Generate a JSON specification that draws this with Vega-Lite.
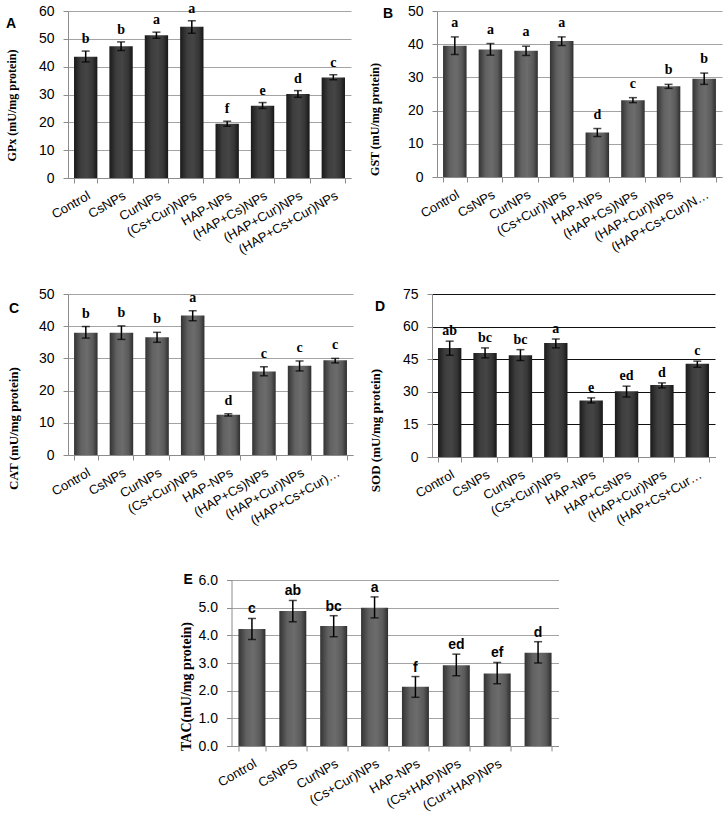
{
  "$schema": "https://vega.github.io/schema/vega-lite/v6.json",
  "padding": {"left": 5, "top": 1, "right": 5, "bottom": 5},
  "background": "white",
  "config": {
    "view": {"stroke": null},
    "axis": {
      "domainColor": "#8c8c8c",
      "tickColor": "#8c8c8c",
      "labelFont": "Liberation Sans",
      "labelColor": "black",
      "titleFont": "Liberation Serif",
      "titleFontWeight": "bold",
      "titleColor": "black"
    },
    "axisX": {"grid": false, "tickBand": "extent", "tickSize": 5, "labelAngle": -30, "labelFontSize": 13, "labelPadding": 6, "title": null},
    "axisY": {"grid": true, "gridColor": "#a3a3a3", "tickSize": 5, "labelPadding": 9, "labelFontSize": 14, "titleFontSize": 12, "titleBaseline": "middle"},
    "title": {"anchor": "start", "frame": "group", "offset": 0, "baseline": "alphabetic", "fontSize": 14, "font": "Liberation Sans", "fontWeight": "bold", "color": "black"}
  },
  "datasets": {
    "gpx": [
      {"g": "Control", "v": 43.6, "lo": 41.7, "hi": 45.6, "sig": "b"},
      {"g": "CsNPs", "v": 47.3, "lo": 45.8, "hi": 48.9, "sig": "b"},
      {"g": "CurNPs", "v": 51.3, "lo": 50.2, "hi": 52.4, "sig": "a"},
      {"g": "(Cs+Cur)NPs", "v": 54.3, "lo": 52.0, "hi": 56.5, "sig": "a"},
      {"g": "HAP-NPs", "v": 19.5, "lo": 18.6, "hi": 20.4, "sig": "f"},
      {"g": "(HAP+Cs)NPs", "v": 26.0, "lo": 25.0, "hi": 27.1, "sig": "e"},
      {"g": "(HAP+Cur)NPs", "v": 30.2, "lo": 29.0, "hi": 31.4, "sig": "d"},
      {"g": "(HAP+Cs+Cur)NPs", "v": 36.1, "lo": 35.3, "hi": 37.1, "sig": "c"}
    ],
    "gst": [
      {"g": "Control", "v": 39.5, "lo": 36.9, "hi": 42.2, "sig": "a"},
      {"g": "CsNPs", "v": 38.4, "lo": 36.7, "hi": 40.2, "sig": "a"},
      {"g": "CurNPs", "v": 38.0, "lo": 36.6, "hi": 39.4, "sig": "a"},
      {"g": "(Cs+Cur)NPs", "v": 41.0, "lo": 39.6, "hi": 42.2, "sig": "a"},
      {"g": "HAP-NPs", "v": 13.4, "lo": 12.2, "hi": 14.6, "sig": "d"},
      {"g": "(HAP+Cs)NPs", "v": 23.1, "lo": 22.4, "hi": 23.9, "sig": "c"},
      {"g": "(HAP+Cur)NPs", "v": 27.3, "lo": 26.7, "hi": 27.9, "sig": "b"},
      {"g": "(HAP+Cs+Cur)N…", "v": 29.6, "lo": 27.9, "hi": 31.3, "sig": "b"}
    ],
    "cat": [
      {"g": "Control", "v": 38.0, "lo": 36.3, "hi": 39.9, "sig": "b"},
      {"g": "CsNPs", "v": 38.0, "lo": 35.9, "hi": 40.1, "sig": "b"},
      {"g": "CurNPs", "v": 36.6, "lo": 35.0, "hi": 38.1, "sig": "b"},
      {"g": "(Cs+Cur)NPs", "v": 43.3, "lo": 41.7, "hi": 44.8, "sig": "a"},
      {"g": "HAP-NPs", "v": 12.5, "lo": 12.1, "hi": 12.8, "sig": "d"},
      {"g": "(HAP+Cs)NPs", "v": 25.9, "lo": 24.6, "hi": 27.4, "sig": "c"},
      {"g": "(HAP+Cur)NPs", "v": 27.7, "lo": 26.1, "hi": 29.2, "sig": "c"},
      {"g": "(HAP+Cs+Cur)…", "v": 29.4, "lo": 28.6, "hi": 30.0, "sig": "c"}
    ],
    "sod": [
      {"g": "Control", "v": 50.2, "lo": 46.8, "hi": 53.3, "sig": "ab"},
      {"g": "CsNPs", "v": 47.9, "lo": 45.6, "hi": 50.2, "sig": "bc"},
      {"g": "CurNPs", "v": 46.8, "lo": 44.4, "hi": 49.4, "sig": "bc"},
      {"g": "(Cs+Cur)NPs", "v": 52.5, "lo": 50.2, "hi": 54.3, "sig": "a"},
      {"g": "HAP-NPs", "v": 26.0, "lo": 24.9, "hi": 27.2, "sig": "e"},
      {"g": "HAP+CsNPs", "v": 30.3, "lo": 27.6, "hi": 32.6, "sig": "ed"},
      {"g": "(HAP+Cur)NPs", "v": 33.1, "lo": 31.8, "hi": 34.1, "sig": "d"},
      {"g": "(HAP+Cs+Cur…", "v": 42.9, "lo": 41.3, "hi": 44.1, "sig": "c"}
    ],
    "tac": [
      {"g": "Control", "v": 4.23, "lo": 3.85, "hi": 4.61, "sig": "c"},
      {"g": "CsNPS", "v": 4.88, "lo": 4.49, "hi": 5.26, "sig": "ab"},
      {"g": "CurNPs", "v": 4.34, "lo": 3.95, "hi": 4.71, "sig": "bc"},
      {"g": "(Cs+Cur)NPs", "v": 5.0, "lo": 4.63, "hi": 5.39, "sig": "a"},
      {"g": "HAP-NPs", "v": 2.14, "lo": 1.76, "hi": 2.51, "sig": "f"},
      {"g": "(Cs+HAP)NPs", "v": 2.92, "lo": 2.54, "hi": 3.32, "sig": "ed"},
      {"g": "(Cur+HAP)NPs", "v": 2.62, "lo": 2.25, "hi": 3.02, "sig": "ef"},
      {"g": " ", "v": 3.37, "lo": 3.0, "hi": 3.77, "sig": "d"}
    ]
  },
  "vconcat": [
    {
      "vconcat": [
        {
          "hconcat": [
            {
              "width": 283, "height": 167,
              "data": {"name": "gpx"},
              "title": {"text": "A", "dx": -62, "dy": 33},
              "encoding": {"x": {"field": "g", "type": "nominal", "sort": null, "scale": {"paddingInner": 0.34, "paddingOuter": 0.17}}},
              "layer": [
                {"mark": {"type": "bar", "color": {"gradient": "linear", "x1": 0, "x2": 1, "y1": 0, "y2": 0, "stops": [{"offset": 0, "color": "#1a1a1a"}, {"offset": 0.3, "color": "#3e3e3e"}, {"offset": 0.55, "color": "#454545"}, {"offset": 0.8, "color": "#363636"}, {"offset": 1, "color": "#161616"}]}},
                 "encoding": {"y": {"field": "v", "type": "quantitative", "scale": {"domain": [0, 60], "nice": false}, "axis": {"values": [0, 10, 20, 30, 40, 50, 60], "title": "GPx (mU/mg protein)", "titleX": -57, "titleY": 94}}}},
                {"mark": {"type": "rule", "color": "black", "strokeWidth": 1.5}, "encoding": {"y": {"field": "lo", "type": "quantitative", "axis": {"values": [0, 10, 20, 30, 40, 50, 60], "title": "GPx (mU/mg protein)", "titleX": -57, "titleY": 94}}, "y2": {"field": "hi"}}},
                {"mark": {"type": "tick", "color": "black", "thickness": 1.5, "size": 8}, "encoding": {"y": {"field": "lo", "type": "quantitative", "axis": {"values": [0, 10, 20, 30, 40, 50, 60], "title": "GPx (mU/mg protein)", "titleX": -57, "titleY": 94}}}},
                {"mark": {"type": "tick", "color": "black", "thickness": 1.5, "size": 8}, "encoding": {"y": {"field": "hi", "type": "quantitative", "axis": {"values": [0, 10, 20, 30, 40, 50, 60], "title": "GPx (mU/mg protein)", "titleX": -57, "titleY": 94}}}},
                {"mark": {"type": "text", "font": "Liberation Serif", "fontWeight": "bold", "fontSize": 14, "baseline": "alphabetic", "dy": -8, "color": "black"}, "encoding": {"y": {"field": "hi", "type": "quantitative", "axis": {"values": [0, 10, 20, 30, 40, 50, 60], "title": "GPx (mU/mg protein)", "titleX": -57, "titleY": 94}}, "text": {"field": "sig"}}}
              ]
            },
            {
              "width": 285, "height": 166,
              "data": {"name": "gst"},
              "title": {"text": "B", "dx": -54, "dy": 21},
              "encoding": {"x": {"field": "g", "type": "nominal", "sort": null, "scale": {"paddingInner": 0.34, "paddingOuter": 0.17}}},
              "layer": [
                {"mark": {"type": "bar", "color": {"gradient": "linear", "x1": 0, "x2": 1, "y1": 0, "y2": 0, "stops": [{"offset": 0, "color": "#333333"}, {"offset": 0.3, "color": "#626262"}, {"offset": 0.55, "color": "#6c6c6c"}, {"offset": 0.8, "color": "#5a5a5a"}, {"offset": 1, "color": "#2e2e2e"}]}},
                 "encoding": {"y": {"field": "v", "type": "quantitative", "scale": {"domain": [0, 50], "nice": false}, "axis": {"values": [0, 10, 20, 30, 40, 50], "title": "GST (mU/mg protein)", "titleX": -63, "titleY": 108}}}},
                {"mark": {"type": "rule", "color": "black", "strokeWidth": 1.5}, "encoding": {"y": {"field": "lo", "type": "quantitative", "axis": {"values": [0, 10, 20, 30, 40, 50], "title": "GST (mU/mg protein)", "titleX": -63, "titleY": 108}}, "y2": {"field": "hi"}}},
                {"mark": {"type": "tick", "color": "black", "thickness": 1.5, "size": 8}, "encoding": {"y": {"field": "lo", "type": "quantitative", "axis": {"values": [0, 10, 20, 30, 40, 50], "title": "GST (mU/mg protein)", "titleX": -63, "titleY": 108}}}},
                {"mark": {"type": "tick", "color": "black", "thickness": 1.5, "size": 8}, "encoding": {"y": {"field": "hi", "type": "quantitative", "axis": {"values": [0, 10, 20, 30, 40, 50], "title": "GST (mU/mg protein)", "titleX": -63, "titleY": 108}}}},
                {"mark": {"type": "text", "font": "Liberation Serif", "fontWeight": "bold", "fontSize": 14, "baseline": "alphabetic", "dy": -10, "color": "black"}, "encoding": {"y": {"field": "hi", "type": "quantitative", "axis": {"values": [0, 10, 20, 30, 40, 50], "title": "GST (mU/mg protein)", "titleX": -63, "titleY": 108}}, "text": {"field": "sig"}}}
              ]
            }
          ],
          "spacing": 16
        },
        {
          "hconcat": [
            {
              "width": 285, "height": 161,
              "data": {"name": "cat"},
              "title": {"text": "C", "dx": -59, "dy": 33},
              "encoding": {"x": {"field": "g", "type": "nominal", "sort": null, "scale": {"paddingInner": 0.34, "paddingOuter": 0.17}}},
              "layer": [
                {"mark": {"type": "bar", "color": {"gradient": "linear", "x1": 0, "x2": 1, "y1": 0, "y2": 0, "stops": [{"offset": 0, "color": "#333333"}, {"offset": 0.3, "color": "#626262"}, {"offset": 0.55, "color": "#6c6c6c"}, {"offset": 0.8, "color": "#5a5a5a"}, {"offset": 1, "color": "#2e2e2e"}]}},
                 "encoding": {"y": {"field": "v", "type": "quantitative", "scale": {"domain": [0, 50], "nice": false}, "axis": {"values": [0, 10, 20, 30, 40, 50], "title": "CAT  (mU/mg protein)", "titleFontSize": 13, "titleX": -55, "titleY": 134}}}},
                {"mark": {"type": "rule", "color": "black", "strokeWidth": 1.5}, "encoding": {"y": {"field": "lo", "type": "quantitative", "axis": {"values": [0, 10, 20, 30, 40, 50], "title": "CAT  (mU/mg protein)", "titleFontSize": 13, "titleX": -55, "titleY": 134}}, "y2": {"field": "hi"}}},
                {"mark": {"type": "tick", "color": "black", "thickness": 1.5, "size": 8}, "encoding": {"y": {"field": "lo", "type": "quantitative", "axis": {"values": [0, 10, 20, 30, 40, 50], "title": "CAT  (mU/mg protein)", "titleFontSize": 13, "titleX": -55, "titleY": 134}}}},
                {"mark": {"type": "tick", "color": "black", "thickness": 1.5, "size": 8}, "encoding": {"y": {"field": "hi", "type": "quantitative", "axis": {"values": [0, 10, 20, 30, 40, 50], "title": "CAT  (mU/mg protein)", "titleFontSize": 13, "titleX": -55, "titleY": 134}}}},
                {"mark": {"type": "text", "font": "Liberation Serif", "fontWeight": "bold", "fontSize": 14, "baseline": "alphabetic", "dy": -9, "color": "black"}, "encoding": {"y": {"field": "hi", "type": "quantitative", "axis": {"values": [0, 10, 20, 30, 40, 50], "title": "CAT  (mU/mg protein)", "titleFontSize": 13, "titleX": -55, "titleY": 134}}, "text": {"field": "sig"}}}
              ]
            },
            {
              "width": 283, "height": 163,
              "data": {"name": "sod"},
              "title": {"text": "D", "dx": -57, "dy": 31},
              "encoding": {"x": {"field": "g", "type": "nominal", "sort": null, "scale": {"paddingInner": 0.34, "paddingOuter": 0.17}}},
              "layer": [
                {"mark": {"type": "bar", "color": {"gradient": "linear", "x1": 0, "x2": 1, "y1": 0, "y2": 0, "stops": [{"offset": 0, "color": "#1a1a1a"}, {"offset": 0.3, "color": "#3e3e3e"}, {"offset": 0.55, "color": "#454545"}, {"offset": 0.8, "color": "#363636"}, {"offset": 1, "color": "#161616"}]}},
                 "encoding": {"y": {"field": "v", "type": "quantitative", "scale": {"domain": [0, 75], "nice": false}, "axis": {"values": [0, 15, 30, 45, 60, 75], "gridColor": "#111111", "title": "SOD (mU/mg protein)", "titleFontSize": 13, "titleX": -57, "titleY": 136}}}},
                {"mark": {"type": "rule", "color": "black", "strokeWidth": 1.5}, "encoding": {"y": {"field": "lo", "type": "quantitative", "axis": {"values": [0, 15, 30, 45, 60, 75], "gridColor": "#111111", "title": "SOD (mU/mg protein)", "titleFontSize": 13, "titleX": -57, "titleY": 136}}, "y2": {"field": "hi"}}},
                {"mark": {"type": "tick", "color": "black", "thickness": 1.5, "size": 8}, "encoding": {"y": {"field": "lo", "type": "quantitative", "axis": {"values": [0, 15, 30, 45, 60, 75], "gridColor": "#111111", "title": "SOD (mU/mg protein)", "titleFontSize": 13, "titleX": -57, "titleY": 136}}}},
                {"mark": {"type": "tick", "color": "black", "thickness": 1.5, "size": 8}, "encoding": {"y": {"field": "hi", "type": "quantitative", "axis": {"values": [0, 15, 30, 45, 60, 75], "gridColor": "#111111", "title": "SOD (mU/mg protein)", "titleFontSize": 13, "titleX": -57, "titleY": 136}}}},
                {"mark": {"type": "text", "font": "Liberation Serif", "fontWeight": "bold", "fontSize": 14, "baseline": "alphabetic", "dy": -6, "color": "black"}, "encoding": {"y": {"field": "hi", "type": "quantitative", "axis": {"values": [0, 15, 30, 45, 60, 75], "gridColor": "#111111", "title": "SOD (mU/mg protein)", "titleFontSize": 13, "titleX": -57, "titleY": 136}}, "text": {"field": "sig"}}}
              ]
            }
          ],
          "spacing": 16
        }
      ],
      "spacing": 30
    },
    {
      "width": 327, "height": 166,
      "data": {"name": "tac"},
      "title": {"text": "E", "dx": -48, "dy": 18},
      "encoding": {"x": {"field": "g", "type": "nominal", "sort": null, "scale": {"paddingInner": 0.34, "paddingOuter": 0.17}}},
      "layer": [
        {"mark": {"type": "bar", "color": {"gradient": "linear", "x1": 0, "x2": 1, "y1": 0, "y2": 0, "stops": [{"offset": 0, "color": "#333333"}, {"offset": 0.3, "color": "#626262"}, {"offset": 0.55, "color": "#6c6c6c"}, {"offset": 0.8, "color": "#5a5a5a"}, {"offset": 1, "color": "#2e2e2e"}]}},
         "encoding": {"y": {"field": "v", "type": "quantitative", "scale": {"domain": [0, 6], "nice": false}, "axis": {"values": [0, 1, 2, 3, 4, 5, 6], "format": ".1f", "title": "TAC(mU/mg protein)", "titleFontSize": 14, "titleX": -45, "titleY": 106}}}},
        {"mark": {"type": "rule", "color": "black", "strokeWidth": 1.5}, "encoding": {"y": {"field": "lo", "type": "quantitative", "axis": {"values": [0, 1, 2, 3, 4, 5, 6], "format": ".1f", "title": "TAC(mU/mg protein)", "titleFontSize": 14, "titleX": -45, "titleY": 106}}, "y2": {"field": "hi"}}},
        {"mark": {"type": "tick", "color": "black", "thickness": 1.5, "size": 8}, "encoding": {"y": {"field": "lo", "type": "quantitative", "axis": {"values": [0, 1, 2, 3, 4, 5, 6], "format": ".1f", "title": "TAC(mU/mg protein)", "titleFontSize": 14, "titleX": -45, "titleY": 106}}}},
        {"mark": {"type": "tick", "color": "black", "thickness": 1.5, "size": 8}, "encoding": {"y": {"field": "hi", "type": "quantitative", "axis": {"values": [0, 1, 2, 3, 4, 5, 6], "format": ".1f", "title": "TAC(mU/mg protein)", "titleFontSize": 14, "titleX": -45, "titleY": 106}}}},
        {"mark": {"type": "text", "font": "Liberation Sans", "fontWeight": "bold", "fontSize": 14, "baseline": "alphabetic", "dy": -5, "color": "black"}, "encoding": {"y": {"field": "hi", "type": "quantitative", "axis": {"values": [0, 1, 2, 3, 4, 5, 6], "format": ".1f", "title": "TAC(mU/mg protein)", "titleFontSize": 14, "titleX": -45, "titleY": 106}}, "text": {"field": "sig"}}}
      ]
    }
  ],
  "spacing": 45,
  "center": true
}
